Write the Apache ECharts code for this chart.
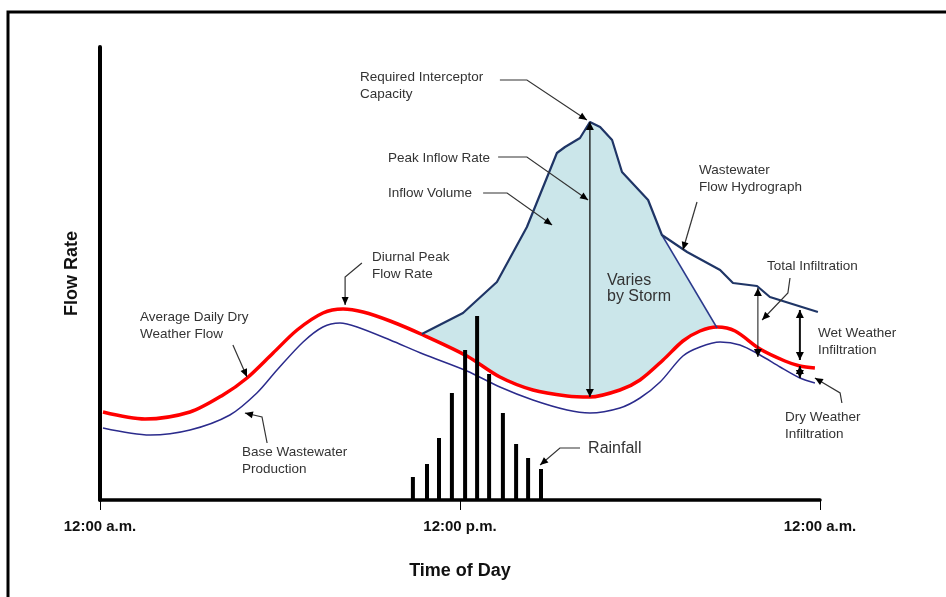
<!DOCTYPE html>
<html>
<head>
<meta charset="utf-8">
<script src="https://cdn.jsdelivr.net/npm/echarts@6/dist/echarts.min.js"></script>
<style>
html, body { margin: 0; padding: 0; background: #fff; }
#chart { width: 946px; height: 597px; }
</style>
</head>
<body>
<div id="chart"></div>
<script>
// x = hour of the day (0..24), y = flow (arbitrary units)
const avgDryFlow = [
  [0.1, 88], [1.5, 81], [3.0, 88], [4.1, 105], [4.9, 122], [5.77, 147], [6.57, 170],
  [7.43, 187], [8.1, 191], [8.77, 188], [9.67, 179], [10.77, 165], [12.23, 144],
  [13.33, 123], [14.43, 110], [15.57, 104], [16.33, 103], [17.33, 110], [18.0, 120],
  [18.77, 140], [19.43, 159], [20.0, 169], [20.57, 173], [21.17, 169], [22.0, 151],
  [22.83, 139], [23.33, 134], [23.83, 132]
]
const baseFlow = [
  [0.1, 72], [1.67, 65], [3.0, 70], [4.33, 85], [5.23, 107], [5.9, 130], [6.77, 158],
  [7.43, 173], [8.0, 177], [8.57, 173], [9.67, 160], [10.77, 146], [12.23, 129],
  [13.33, 113], [14.43, 100], [15.57, 90], [16.33, 87], [17.33, 92], [18.0, 102],
  [18.67, 118], [19.43, 144], [20.0, 153], [20.67, 158], [21.33, 155], [22.0, 145],
  [22.67, 133], [23.33, 122], [23.83, 117]
]
const hydrograph = [
  [10.73, 166], [12.1, 187], [13.23, 218], [14.23, 273], [15.23, 347], [15.5, 353],
  [16.0, 362], [16.33, 378], [16.67, 373], [17.07, 360], [17.4, 328], [18.27, 300],
  [18.73, 265], [19.57, 248], [20.67, 230], [21.1, 217], [21.9, 214], [22.33, 203],
  [23.93, 188]
]
const recession = [[18.73, 265], [20.57, 172]]
const rainHours = [10.43, 10.9, 11.3, 11.73, 12.17, 12.57, 12.97, 13.43, 13.87, 14.27, 14.7]
const rainDepth = [23, 36, 62, 107, 150, 184, 126, 87, 56, 42, 31]
const tickLabels = { 0: '12:00 a.m.', 12: '12:00 p.m.', 24: '12:00 a.m.' }

// annotation texts with their leader lines (data coords)
const notes = [
  { text: 'Required Interceptor\nCapacity', at: [8.67, 431], path: [[13.33, 420], [14.23, 420], [16.23, 380]] },
  { text: 'Peak Inflow Rate', at: [9.6, 350], path: [[13.27, 343], [14.23, 343], [16.27, 300]] },
  { text: 'Inflow Volume', at: [9.6, 315], path: [[12.77, 307], [13.57, 307], [15.07, 275]] },
  { text: 'Diurnal Peak\nFlow Rate', at: [9.07, 251], path: [[8.73, 237], [8.17, 223], [8.17, 195]] },
  { text: 'Average Daily Dry\nWeather Flow', at: [1.33, 191], path: [[4.43, 155], [4.9, 123]] },
  { text: 'Base Wastewater\nProduction', at: [4.73, 56], path: [[5.57, 57], [5.4, 83], [4.83, 87]] },
  { text: 'Rainfall', at: [16.27, 60], size: 16, path: [[16.0, 52], [15.33, 52], [14.67, 35]] },
  { text: 'Wastewater\nFlow Hydrograph', at: [19.97, 338], path: [[19.9, 298], [19.43, 250]] },
  { text: 'Total Infiltration', at: [22.23, 242], path: [[23.0, 222], [22.93, 207], [22.07, 180]] },
  { text: 'Wet Weather\nInfiltration', at: [23.93, 175] },
  { text: 'Dry Weather\nInfiltration', at: [22.83, 91], path: [[24.73, 97], [24.67, 107], [23.83, 122]] },
  { text: 'Varies\nby Storm', at: [16.9, 227], size: 16, lh: 15.5 }
]
// vertical double arrows: x, from, to
const spans = [
  { x: 16.33, y1: 103, y2: 378, w: 1.3 },
  { x: 21.93, y1: 143, y2: 212, w: 1 },
  { x: 23.33, y1: 140, y2: 190, w: 2 },
  { x: 23.33, y1: 122, y2: 134, w: 2 }
]

const FONT = '"Liberation Sans", Arial, sans-serif'

function arrowHead(tip, from, len, half) {
  const dx = tip[0] - from[0], dy = tip[1] - from[1]
  const d = Math.hypot(dx, dy) || 1
  const ux = dx / d, uy = dy / d
  const bx = tip[0] - ux * len, by = tip[1] - uy * len
  return [tip, [bx - uy * half, by + ux * half], [bx + uy * half, by - ux * half]]
}

const fillTop = hydrograph.filter(p => p[0] <= 18.73).concat([recession[1]])
const fillBottom = avgDryFlow.filter(p => p[0] >= 10.77 && p[0] <= 20.57).reverse()
const fillPoly = fillTop.concat(fillBottom)

const chart = echarts.init(document.getElementById('chart'))
chart.setOption({
  animation: false,
  backgroundColor: '#fff',
  graphic: [{
    type: 'rect',
    shape: { x: 8, y: 12, width: 1000, height: 700 },
    style: { fill: 'none', stroke: '#000', lineWidth: 3 },
    z: 100
  }],
  grid: { left: 100, right: 126, top: 47, bottom: 97 },
  xAxis: {
    type: 'value', min: 0, max: 24, interval: 12,
    name: 'Time of Day', nameLocation: 'middle', nameGap: 62,
    nameTextStyle: { fontFamily: FONT, fontSize: 18, fontWeight: 'bold', color: '#111' },
    axisLine: { lineStyle: { color: '#000', width: 3.5 } },
    axisTick: { show: true, length: 10, lineStyle: { color: '#000', width: 1 } },
    axisLabel: {
      margin: 19, fontFamily: FONT, fontSize: 15, fontWeight: 'bold', color: '#111',
      formatter: v => tickLabels[v] || ''
    },
    splitLine: { show: false }
  },
  yAxis: {
    type: 'value', min: 0, max: 453,
    name: 'Flow Rate', nameLocation: 'middle', nameGap: 19,
    nameTextStyle: { fontFamily: FONT, fontSize: 18, fontWeight: 'bold', color: '#111' },
    axisLine: { show: true, lineStyle: { color: '#000', width: 4 } },
    axisTick: { show: false },
    axisLabel: { show: false },
    splitLine: { show: false }
  },
  series: [
    {
      // inflow volume area
      type: 'custom', z: 1, silent: true,
      data: [[0, 0]],
      renderItem: function (params, api) {
        return {
          type: 'polygon',
          shape: { points: fillPoly.map(p => api.coord(p)) },
          style: { fill: '#cbe6ea', stroke: 'none' }
        }
      }
    },
    {
      name: 'Base Wastewater Production', type: 'line', z: 2, smooth: 0.3,
      symbol: 'none', data: baseFlow,
      lineStyle: { color: '#2b2b8c', width: 1.5 }
    },
    {
      name: 'Average Daily Dry Weather Flow', type: 'line', z: 3, smooth: 0.3,
      symbol: 'none', data: avgDryFlow,
      lineStyle: { color: '#ff0000', width: 3.5 }
    },
    {
      name: 'Recession', type: 'line', z: 3, symbol: 'none', data: recession,
      lineStyle: { color: '#2b3a8c', width: 1.5 }
    },
    {
      name: 'Wastewater Flow Hydrograph', type: 'line', z: 4, symbol: 'none', data: hydrograph,
      lineStyle: { color: '#1f3566', width: 2.2 }
    },
    {
      name: 'Rainfall', type: 'bar', z: 5, barWidth: 4,
      data: rainHours.map((h, i) => [h, rainDepth[i]]),
      itemStyle: { color: '#000' }
    },
    {
      type: 'custom', z: 6, silent: true,
      data: spans.map(s => [s.x, s.y1]),
      renderItem: function (params, api) {
        const s = spans[params.dataIndex]
        const a = api.coord([s.x, s.y1]), b = api.coord([s.x, s.y2])
        return {
          type: 'group',
          children: [
            { type: 'line', shape: { x1: a[0], y1: a[1], x2: b[0], y2: b[1] }, style: { stroke: '#111', lineWidth: s.w } },
            { type: 'polygon', shape: { points: arrowHead(a, b, 8, 4) }, style: { fill: '#000' } },
            { type: 'polygon', shape: { points: arrowHead(b, a, 8, 4) }, style: { fill: '#000' } }
          ]
        }
      }
    },
    {
      type: 'custom', z: 7, silent: true,
      data: notes.map(n => n.at),
      renderItem: function (params, api) {
        const n = notes[params.dataIndex]
        const p = api.coord(n.at)
        const size = n.size || 13.5
        const children = [{
          type: 'text',
          style: {
            text: n.text, x: p[0], y: p[1], fill: '#333',
            font: size + 'px ' + FONT, lineHeight: n.lh || 17,
            align: 'left', verticalAlign: 'top'
          }
        }]
        if (n.path) {
          const pts = n.path.map(q => api.coord(q))
          children.push({ type: 'polyline', shape: { points: pts }, style: { stroke: '#333', lineWidth: 1.2, fill: 'none' } })
          children.push({ type: 'polygon', shape: { points: arrowHead(pts[pts.length - 1], pts[pts.length - 2], 8, 3.5) }, style: { fill: '#000' } })
        }
        return { type: 'group', children: children }
      }
    }
  ]
})
</script>
</body>
</html>
